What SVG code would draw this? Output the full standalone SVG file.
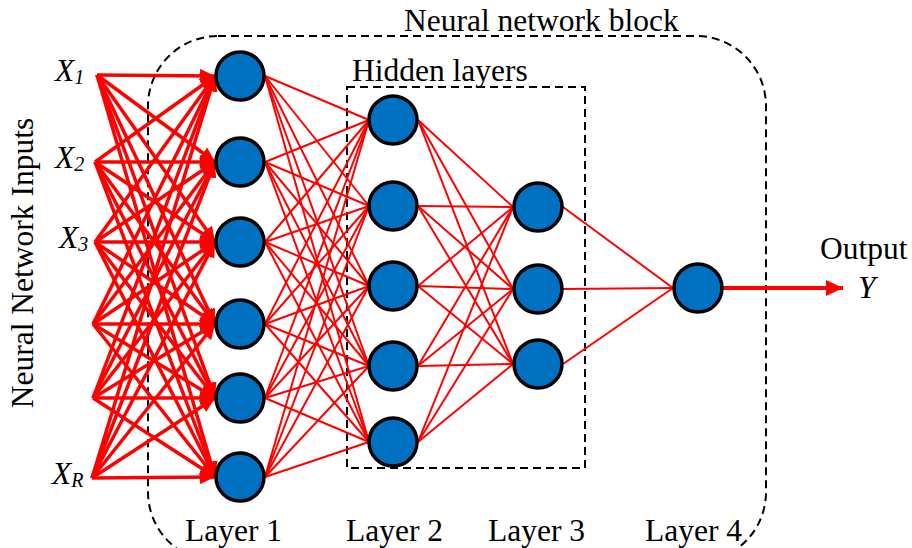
<svg xmlns="http://www.w3.org/2000/svg" width="912" height="548" viewBox="0 0 912 548">
<style>
text{font-family:"Liberation Serif","Times New Roman",serif;font-size:31.5px;fill:#000}
.it{font-style:italic}
.node{fill:#0070C0;stroke:#000;stroke-width:3.5}
.in line{stroke:#f00;stroke-width:3.5;marker-end:url(#ah)}
.th line{stroke:#f00;stroke-width:2}
.box{fill:none;stroke:#000;stroke-width:2;stroke-dasharray:8 5}
</style>
<defs>
<marker id="ah" markerUnits="userSpaceOnUse" markerWidth="16" markerHeight="14" refX="15" refY="7" orient="auto"><path d="M0,0 L15,7 L0,14 z" fill="#f00"/></marker>
<marker id="ah2" markerUnits="userSpaceOnUse" markerWidth="18" markerHeight="16" refX="17" refY="8" orient="auto"><path d="M0,0 L17,8 L0,16 z" fill="#f00"/></marker>
</defs>
<rect class="box" x="148" y="36" width="618" height="526" rx="70" ry="70"/>
<rect class="box" x="347" y="87" width="238" height="381"/>
<text x="404" y="31">Neural network block</text>
<text x="352" y="81">Hidden layers</text>
<text transform="translate(33,263) rotate(-90)" text-anchor="middle">Neural Network Inputs</text>
<g id="input-labels">
<text class="it" x="55" y="81">X<tspan font-size="20" dy="3">1</tspan></text>
<text class="it" x="55" y="168">X<tspan font-size="20" dy="3">2</tspan></text>
<text class="it" x="59" y="248">X<tspan font-size="20" dy="3">3</tspan></text>
<text class="it" x="52" y="484">X<tspan font-size="20" dy="3">R</tspan></text>
</g>
<g id="connectors">
<g class="in">
<line x1="97" y1="75" x2="215" y2="76"/><line x1="97" y1="75" x2="215" y2="162"/><line x1="97" y1="75" x2="215" y2="242"/><line x1="97" y1="75" x2="215" y2="324"/><line x1="97" y1="75" x2="215" y2="398"/><line x1="97" y1="75" x2="215" y2="477"/>
<line x1="95" y1="162" x2="215" y2="76"/><line x1="95" y1="162" x2="215" y2="162"/><line x1="95" y1="162" x2="215" y2="242"/><line x1="95" y1="162" x2="215" y2="324"/><line x1="95" y1="162" x2="215" y2="398"/><line x1="95" y1="162" x2="215" y2="477"/>
<line x1="95" y1="242" x2="215" y2="76"/><line x1="95" y1="242" x2="215" y2="162"/><line x1="95" y1="242" x2="215" y2="242"/><line x1="95" y1="242" x2="215" y2="324"/><line x1="95" y1="242" x2="215" y2="398"/><line x1="95" y1="242" x2="215" y2="477"/>
<line x1="93" y1="324" x2="215" y2="76"/><line x1="93" y1="324" x2="215" y2="162"/><line x1="93" y1="324" x2="215" y2="242"/><line x1="93" y1="324" x2="215" y2="324"/><line x1="93" y1="324" x2="215" y2="398"/><line x1="93" y1="324" x2="215" y2="477"/>
<line x1="93" y1="398" x2="215" y2="76"/><line x1="93" y1="398" x2="215" y2="162"/><line x1="93" y1="398" x2="215" y2="242"/><line x1="93" y1="398" x2="215" y2="324"/><line x1="93" y1="398" x2="215" y2="398"/><line x1="93" y1="398" x2="215" y2="477"/>
<line x1="92" y1="478" x2="215" y2="76"/><line x1="92" y1="478" x2="215" y2="162"/><line x1="92" y1="478" x2="215" y2="242"/><line x1="92" y1="478" x2="215" y2="324"/><line x1="92" y1="478" x2="215" y2="398"/><line x1="92" y1="478" x2="215" y2="477"/>
</g>
<g class="th">
<line x1="265" y1="76" x2="369" y2="120"/><line x1="265" y1="76" x2="369" y2="206"/><line x1="265" y1="76" x2="369" y2="286"/><line x1="265" y1="76" x2="369" y2="366"/><line x1="265" y1="76" x2="369" y2="442"/>
<line x1="265" y1="162" x2="369" y2="120"/><line x1="265" y1="162" x2="369" y2="206"/><line x1="265" y1="162" x2="369" y2="286"/><line x1="265" y1="162" x2="369" y2="366"/><line x1="265" y1="162" x2="369" y2="442"/>
<line x1="265" y1="242" x2="369" y2="120"/><line x1="265" y1="242" x2="369" y2="206"/><line x1="265" y1="242" x2="369" y2="286"/><line x1="265" y1="242" x2="369" y2="366"/><line x1="265" y1="242" x2="369" y2="442"/>
<line x1="265" y1="324" x2="369" y2="120"/><line x1="265" y1="324" x2="369" y2="206"/><line x1="265" y1="324" x2="369" y2="286"/><line x1="265" y1="324" x2="369" y2="366"/><line x1="265" y1="324" x2="369" y2="442"/>
<line x1="265" y1="398" x2="369" y2="120"/><line x1="265" y1="398" x2="369" y2="206"/><line x1="265" y1="398" x2="369" y2="286"/><line x1="265" y1="398" x2="369" y2="366"/><line x1="265" y1="398" x2="369" y2="442"/>
<line x1="265" y1="477" x2="369" y2="120"/><line x1="265" y1="477" x2="369" y2="206"/><line x1="265" y1="477" x2="369" y2="286"/><line x1="265" y1="477" x2="369" y2="366"/><line x1="265" y1="477" x2="369" y2="442"/>
<line x1="418" y1="120" x2="513" y2="207"/><line x1="418" y1="120" x2="513" y2="289"/><line x1="418" y1="120" x2="513" y2="364"/>
<line x1="418" y1="206" x2="513" y2="207"/><line x1="418" y1="206" x2="513" y2="289"/><line x1="418" y1="206" x2="513" y2="364"/>
<line x1="418" y1="286" x2="513" y2="207"/><line x1="418" y1="286" x2="513" y2="289"/><line x1="418" y1="286" x2="513" y2="364"/>
<line x1="418" y1="366" x2="513" y2="207"/><line x1="418" y1="366" x2="513" y2="289"/><line x1="418" y1="366" x2="513" y2="364"/>
<line x1="418" y1="442" x2="513" y2="207"/><line x1="418" y1="442" x2="513" y2="289"/><line x1="418" y1="442" x2="513" y2="364"/>
<line x1="563" y1="207" x2="673" y2="288"/><line x1="563" y1="289" x2="673" y2="288"/><line x1="563" y1="364" x2="673" y2="288"/>
</g>
<line x1="723" y1="288" x2="843" y2="288" stroke="#f00" stroke-width="4" marker-end="url(#ah2)"/>
</g>
<g id="layer1">
<circle id="n1-1" class="node" cx="240" cy="76" r="24"/>
<circle id="n1-2" class="node" cx="240" cy="162" r="24"/>
<circle id="n1-3" class="node" cx="240" cy="242" r="24"/>
<circle id="n1-4" class="node" cx="240" cy="324" r="24"/>
<circle id="n1-5" class="node" cx="240" cy="398" r="24"/>
<circle id="n1-6" class="node" cx="240" cy="477" r="24"/>
</g>
<g id="layer2">
<circle id="n2-1" class="node" cx="393" cy="120" r="24"/>
<circle id="n2-2" class="node" cx="393" cy="206" r="24"/>
<circle id="n2-3" class="node" cx="393" cy="286" r="24"/>
<circle id="n2-4" class="node" cx="393" cy="366" r="24"/>
<circle id="n2-5" class="node" cx="393" cy="442" r="24"/>
</g>
<g id="layer3">
<circle id="n3-1" class="node" cx="538" cy="207" r="24"/>
<circle id="n3-2" class="node" cx="538" cy="289" r="24"/>
<circle id="n3-3" class="node" cx="538" cy="364" r="24"/>
</g>
<g id="layer4">
<circle id="n4-1" class="node" cx="698" cy="288" r="24"/>
</g>
<g id="labels">
<text x="185" y="541">Layer 1</text>
<text x="346" y="541">Layer 2</text>
<text x="488" y="541">Layer 3</text>
<text x="645" y="541">Layer 4</text>
<text x="820" y="259">Output</text>
<text class="it" x="858" y="298">Y</text>
</g>
</svg>
